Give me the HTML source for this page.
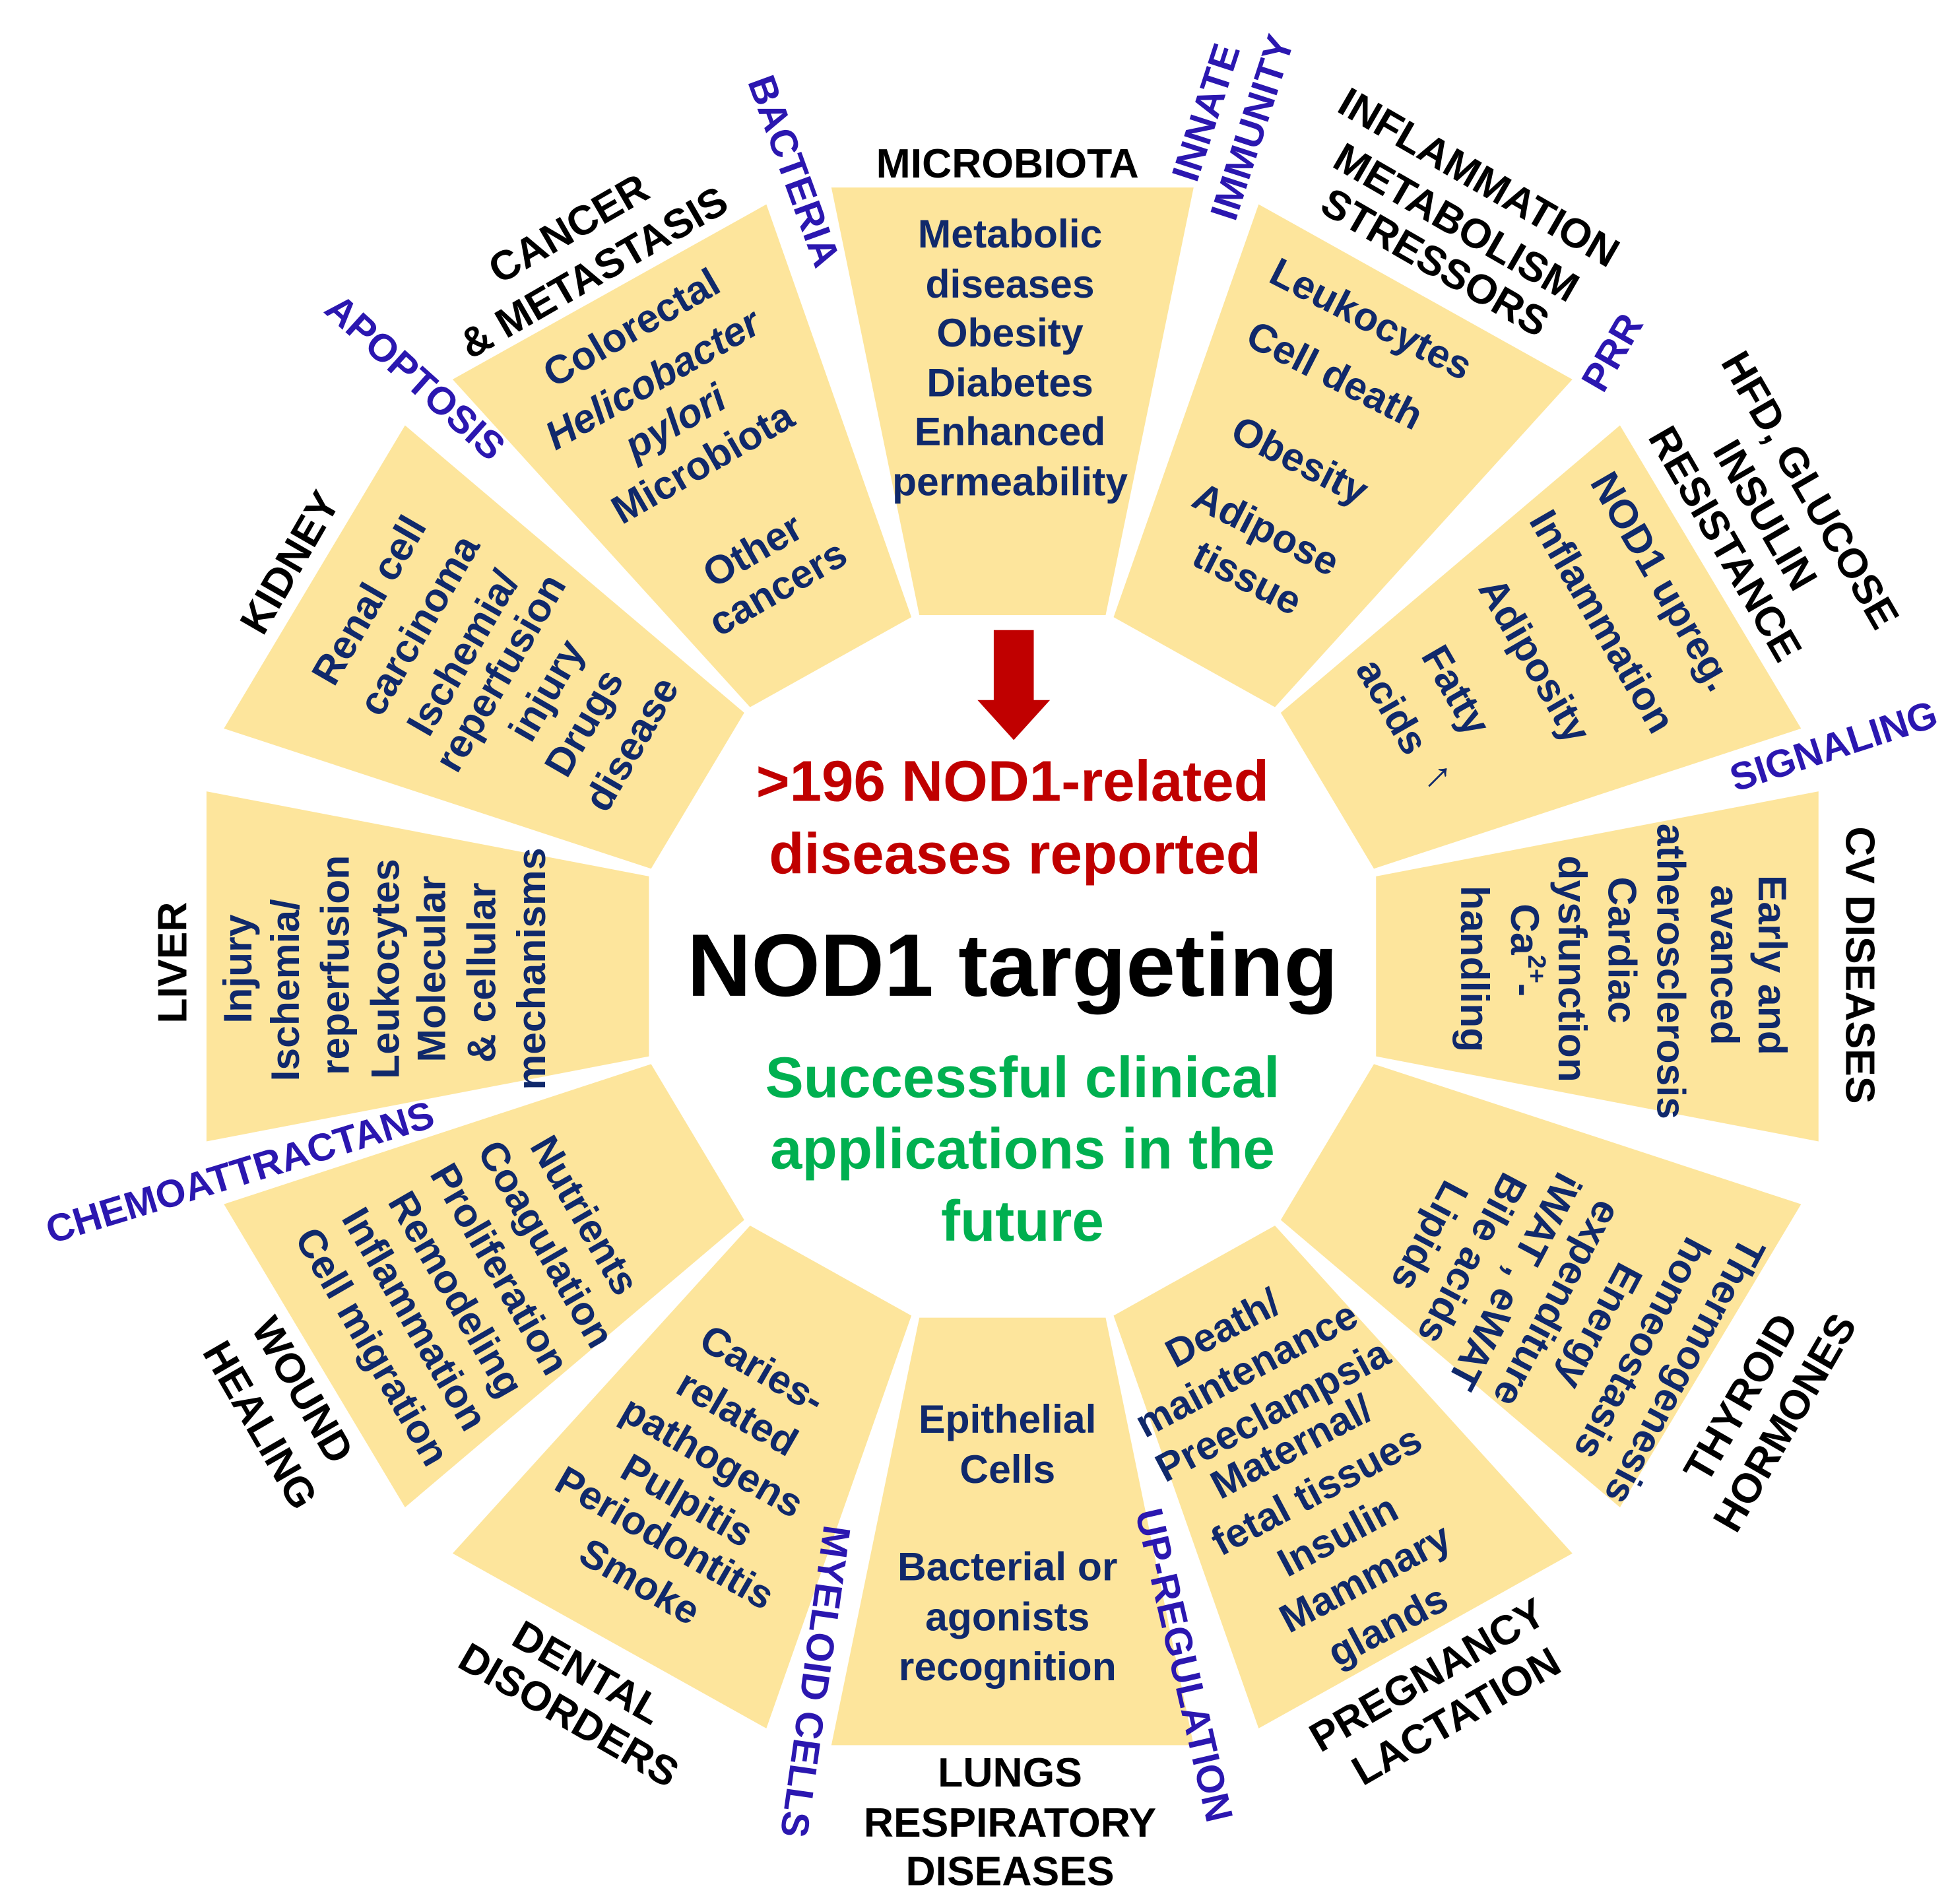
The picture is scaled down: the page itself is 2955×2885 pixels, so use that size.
<!DOCTYPE html>
<html><head><meta charset="utf-8"><style>
html,body{margin:0;padding:0;background:#fff;}
svg{display:block;}
text{font-family:"Liberation Sans",Arial,sans-serif;font-weight:bold;}
.n{fill:#10296b;font-size:32px;}
.k{fill:#000;font-size:33px;}
.b{fill:#2b17b0;font-size:31px;}
</style></head><body>
<svg width="2955" height="2885" viewBox="0 0 1560 1523" preserveAspectRatio="none" xmlns="http://www.w3.org/2000/svg">
<rect width="1560" height="1523" fill="#fff"/>
<g transform="translate(810 773) scale(1.035 1)" fill="#fde59c">
<polygon transform="rotate(0)" points="-140,-623 140,-623 72,-281 -72,-281"/>
<polygon transform="rotate(30)" points="-140,-623 140,-623 72,-281 -72,-281"/>
<polygon transform="rotate(60)" points="-140,-623 140,-623 72,-281 -72,-281"/>
<polygon transform="rotate(90)" points="-140,-623 140,-623 72,-281 -72,-281"/>
<polygon transform="rotate(120)" points="-140,-623 140,-623 72,-281 -72,-281"/>
<polygon transform="rotate(150)" points="-140,-623 140,-623 72,-281 -72,-281"/>
<polygon transform="rotate(180)" points="-140,-623 140,-623 72,-281 -72,-281"/>
<polygon transform="rotate(210)" points="-140,-623 140,-623 72,-281 -72,-281"/>
<polygon transform="rotate(240)" points="-140,-623 140,-623 72,-281 -72,-281"/>
<polygon transform="rotate(270)" points="-140,-623 140,-623 72,-281 -72,-281"/>
<polygon transform="rotate(300)" points="-140,-623 140,-623 72,-281 -72,-281"/>
<polygon transform="rotate(330)" points="-140,-623 140,-623 72,-281 -72,-281"/>
</g>

<g text-anchor="middle" dominant-baseline="central">
<text x="808" y="187" class="n">Metabolic</text>
<text x="808" y="227" class="n">diseases</text>
<text x="808" y="266" class="n">Obesity</text>
<text x="808" y="306" class="n">Diabetes</text>
<text x="808" y="345" class="n">Enhanced</text>
<text x="808" y="385" class="n">permeability</text>

<text class="n" transform="translate(1097 255) rotate(27)">Leukocytes</text>
<text class="n" transform="translate(1068 300) rotate(27)">Cell death</text>
<text class="n" transform="translate(1040 368) rotate(27)">Obesity</text>
<text class="n" transform="translate(1013 423) rotate(27)">Adipose</text>
<text class="n" transform="translate(998 462) rotate(27)">tissue</text>

<text class="n" transform="translate(1330 465) rotate(60)">NOD1 upreg.</text>
<text class="n" transform="translate(1282 497) rotate(60)">Inflammation</text>
<text class="n" transform="translate(1228 528) rotate(60)">Adiposity</text>
<text class="n" transform="translate(1165 552) rotate(60)">Fatty</text>
<text class="n" transform="translate(1114 565) rotate(60)">acids</text>
<text class="n" transform="translate(1152 620) rotate(45)" style="font-weight:normal;font-size:34px">↑</text>

<text class="n" transform="translate(1418 772) rotate(90)">Early and</text>
<text class="n" transform="translate(1380 772) rotate(90)">avanced</text>
<text class="n" transform="translate(1337 777) rotate(90)">atherosclerosis</text>
<text class="n" transform="translate(1298 760) rotate(90)">Cardiac</text>
<text class="n" transform="translate(1258 775) rotate(90)">dysfunction</text>
<text class="n" transform="translate(1220 760) rotate(90)">Ca<tspan font-size="20" dy="-9">2+</tspan><tspan dy="9">-</tspan></text>
<text class="n" transform="translate(1180 775) rotate(90)">handling</text>

<text class="n" transform="translate(1348 1097) rotate(118)">Thermogenesis</text>
<text class="n" transform="translate(1314 1079) rotate(118)">homeostasis</text>
<text class="n" transform="translate(1280 1061) rotate(118)">Energy</text>
<text class="n" transform="translate(1246 1043) rotate(118)">expenditure</text>
<text class="n" transform="translate(1212 1025) rotate(118)">iWAT , eWAT</text>
<text class="n" transform="translate(1178 1007) rotate(118)">Bile acids</text>
<text class="n" transform="translate(1144 989) rotate(118)">Lipids</text>

<text class="n" transform="translate(978 1062) rotate(-28)">Death/</text>
<text class="n" transform="translate(997 1095) rotate(-28)">maintenance</text>
<text class="n" transform="translate(1018 1128) rotate(-28)">Preeclampsia</text>
<text class="n" transform="translate(1033 1157) rotate(-28)">Maternal/</text>
<text class="n" transform="translate(1053 1192) rotate(-28)">fetal tissues</text>
<text class="n" transform="translate(1070 1228) rotate(-28)">Insulin</text>
<text class="n" transform="translate(1092 1262) rotate(-28)">Mammary</text>
<text class="n" transform="translate(1110 1300) rotate(-28)">glands</text>

<text class="n" x="806" y="1135">Epithelial</text>
<text class="n" x="806" y="1175">Cells</text>
<text class="n" x="806" y="1253">Bacterial or</text>
<text class="n" x="806" y="1293">agonists</text>
<text class="n" x="806" y="1333">recognition</text>

<text class="n" transform="translate(610 1095) rotate(30)">Caries-</text>
<text class="n" transform="translate(590 1130) rotate(30)">related</text>
<text class="n" transform="translate(570 1165) rotate(30)">pathogens</text>
<text class="n" transform="translate(550 1200) rotate(30)">Pulpitis</text>
<text class="n" transform="translate(532 1230) rotate(30)">Periodontitis</text>
<text class="n" transform="translate(512 1265) rotate(30)">Smoke</text>

<text class="n" transform="translate(468 972) rotate(60)">Nutrients</text>
<text class="n" transform="translate(437 995) rotate(60)">Coagulation</text>
<text class="n" transform="translate(400 1015) rotate(60)">Proliferation</text>
<text class="n" transform="translate(365 1035) rotate(60)">Remodeling</text>
<text class="n" transform="translate(332 1055) rotate(60)">Inflammation</text>
<text class="n" transform="translate(298 1077) rotate(60)">Cell migration</text>

<text class="n" transform="translate(190 775) rotate(-90)">Injury</text>
<text class="n" transform="translate(228 792) rotate(-90)">Ischemia/</text>
<text class="n" transform="translate(268 772) rotate(-90)">reperfusion</text>
<text class="n" transform="translate(308 775) rotate(-90)">Leukocytes</text>
<text class="n" transform="translate(345 775) rotate(-90)">Molecular</text>
<text class="n" transform="translate(385 778) rotate(-90)">&amp; cellular</text>
<text class="n" transform="translate(425 775) rotate(-90)">mechanisms</text>

<text class="n" transform="translate(295 480) rotate(-60)">Renal cell</text>
<text class="n" transform="translate(335 500) rotate(-60)">carcinoma</text>
<text class="n" transform="translate(370 522) rotate(-60)">Ischemia/</text>
<text class="n" transform="translate(400 538) rotate(-60)">reperfusion</text>
<text class="n" transform="translate(437 552) rotate(-60)">injury</text>
<text class="n" transform="translate(467 578) rotate(-60)">Drugs</text>
<text class="n" transform="translate(505 595) rotate(-60)">disease</text>

<text class="n" transform="translate(505 262) rotate(-30)">Colorectal</text>
<text class="n" transform="translate(522 303) rotate(-30)" font-style="italic">Helicobacter</text>
<text class="n" transform="translate(540 337) rotate(-30)" font-style="italic">pylori</text>
<text class="n" transform="translate(562 370) rotate(-30)">Microbiota</text>
<text class="n" transform="translate(602 440) rotate(-30)">Other</text>
<text class="n" transform="translate(622 470) rotate(-30)">cancers</text>

<text class="k" x="806" y="131">MICROBIOTA</text>
<text class="k" transform="translate(1183 142) rotate(30)">INFLAMMATION</text>
<text class="k" transform="translate(1165 178) rotate(30)">METABOLISM</text>
<text class="k" transform="translate(1148 210) rotate(30)">STRESSORS</text>
<text class="k" transform="translate(1448 392) rotate(60)">HFD, GLUCOSE</text>
<text class="k" transform="translate(1412 412) rotate(60)">INSULIN</text>
<text class="k" transform="translate(1380 435) rotate(60)">RESISTANCE</text>
<text class="k" transform="translate(1488 772) rotate(90)">CV DISEASES</text>
<text class="k" transform="translate(1393 1118) rotate(-60)">THYROID</text>
<text class="k" transform="translate(1428 1138) rotate(-60)">HORMONES</text>
<text class="k" transform="translate(1142 1340) rotate(-30)" fill="#333">PREGNANCY</text>
<text class="k" transform="translate(1165 1373) rotate(-30)">LACTATION</text>
<text class="k" x="808" y="1418">LUNGS</text>
<text class="k" x="808" y="1458">RESPIRATORY</text>
<text class="k" x="808" y="1497">DISEASES</text>
<text class="k" transform="translate(470 1338) rotate(30)">DENTAL</text>
<text class="k" transform="translate(455 1372) rotate(30)">DISORDERS</text>
<text class="k" transform="translate(242 1112) rotate(60)">WOUND</text>
<text class="k" transform="translate(208 1140) rotate(60)">HEALING</text>
<text class="k" transform="translate(138 770) rotate(-90)">LIVER</text>
<text class="k" transform="translate(232 450) rotate(-60)">KIDNEY</text>
<text class="k" transform="translate(455 183) rotate(-30)">CANCER</text>
<text class="k" transform="translate(475 218) rotate(-30)">&amp; METASTASIS</text>

<text class="b" transform="translate(635 137) rotate(70)">BACTERIA</text>
<text class="b" transform="translate(965 90) rotate(-72)">INNATE</text>
<text class="b" transform="translate(1002 102) rotate(-72)">IMMUNITY</text>
<text class="b" transform="translate(1290 282) rotate(-60)">PRR</text>
<text class="b" transform="translate(1467 597) rotate(-18)">SIGNALING</text>
<text class="b" transform="translate(192 938) rotate(-17)">CHEMOATTRACTANS</text>
<text class="b" transform="translate(332 302) rotate(42)">APOPTOSIS</text>
<text class="b" transform="translate(652 1345) rotate(98)">MYELOID CELLS</text>
<text class="b" transform="translate(947 1332) rotate(77)">UP-REGULATION</text>

<text x="810" y="625" fill="#c00000" font-size="46">&gt;196 NOD1-related</text>
<text x="812" y="683" fill="#c00000" font-size="46">diseases reported</text>
<text x="810" y="772" fill="#000" font-size="71">NOD1 targeting</text>
<text x="818" y="862" fill="#00b050" font-size="46">Successful clinical</text>
<text x="818" y="919" fill="#00b050" font-size="46">applications in the</text>
<text x="818" y="977" fill="#00b050" font-size="46">future</text>
</g>
<rect x="795" y="504" width="32" height="58" fill="#c00000"/>
<polygon points="782,560 840,560 811,592" fill="#c00000"/>
</svg>
</body></html>
